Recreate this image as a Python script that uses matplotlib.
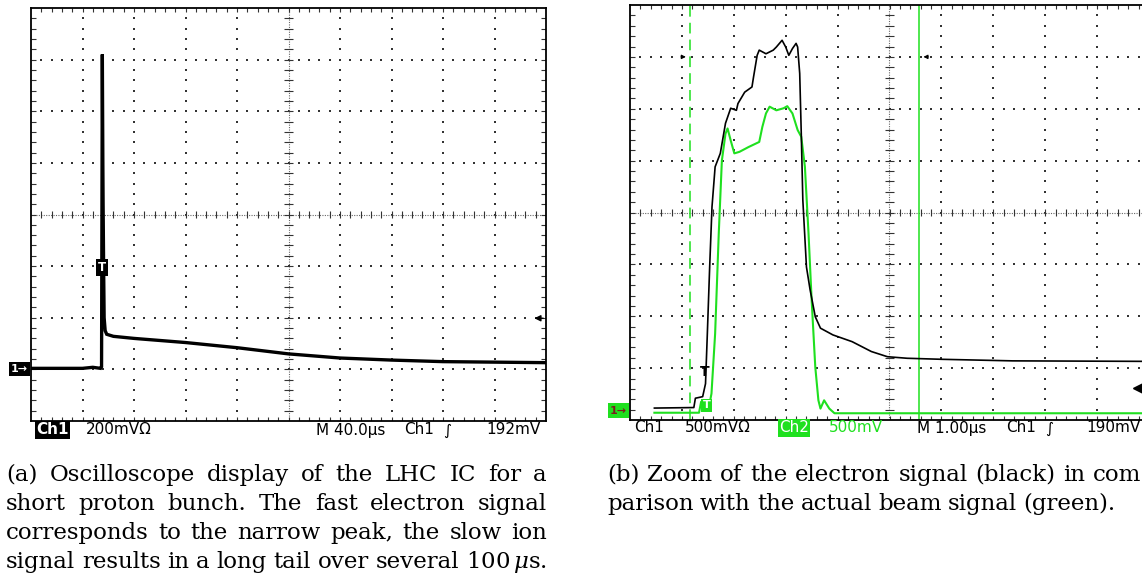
import numpy as np
import matplotlib.pyplot as plt
from matplotlib.patches import Rectangle

plt.rcParams['mathtext.fontset'] = 'dejavuserif'

W, H = 1142, 581
GREEN = '#1fe01f'

# (a) time / voltage in screen divisions
ion_t = [0.0, 0.6, 1.0, 1.2, 1.35, 1.37, 1.375, 1.385, 1.395, 1.40, 1.41, 1.42, 1.44, 1.47,
         1.6, 2.0, 3.0, 4.0, 5.0, 6.0, 7.0, 8.0, 9.0, 10.0]
ion_v = [1.02, 1.02, 1.02, 1.04, 1.02, 1.05, 3.0, 7.1, 5.0, 4.2, 3.0, 2.0, 1.75, 1.68,
         1.64, 1.6, 1.52, 1.42, 1.3, 1.22, 1.18, 1.15, 1.14, 1.13]

# (b) electron signal (black) and beam signal (green), divisions
el_t = [0.47, 1.23, 1.26, 1.40, 1.455, 1.49, 1.535, 1.58, 1.64, 1.74, 1.84, 1.94, 2.05, 2.08,
        2.21, 2.35, 2.38, 2.45, 2.49, 2.62, 2.76, 2.82, 2.93, 3.0, 3.06, 3.13, 3.20, 3.23,
        3.27, 3.30, 3.33, 3.40, 3.47, 3.57, 3.67, 3.91, 4.28, 4.65, 4.96, 5.34, 6.01, 7.37, 10.0]
el_v = [0.23, 0.24, 0.42, 0.45, 0.70, 1.66, 2.95, 4.11, 4.88, 5.14, 5.72, 6.01, 5.97, 6.10,
        6.32, 6.42, 6.61, 7.03, 7.13, 7.06, 7.13, 7.19, 7.32, 7.19, 7.03, 7.16, 7.26, 7.19,
        6.68, 5.52, 4.24, 2.95, 2.51, 1.99, 1.77, 1.64, 1.51, 1.32, 1.22, 1.19, 1.17, 1.14, 1.13]
beam_t = [0.47, 1.33, 1.37, 1.54, 1.57, 1.64, 1.71, 1.77, 1.84, 1.88, 1.94, 2.01, 2.11, 2.28,
          2.49, 2.55, 2.62, 2.69, 2.82, 2.96, 3.03, 3.13, 3.23, 3.30, 3.37, 3.44, 3.50, 3.57,
          3.63, 3.67, 3.74, 3.84, 3.94, 10.0]
beam_v = [0.14, 0.14, 0.35, 0.35, 0.51, 1.66, 3.59, 5.0, 5.52, 5.62, 5.39, 5.14, 5.17, 5.26,
          5.36, 5.65, 5.91, 6.04, 5.97, 6.01, 6.05, 5.91, 5.59, 5.46, 4.88, 3.59, 2.31, 1.02,
          0.38, 0.22, 0.38, 0.22, 0.13, 0.13]
cursor_a, cursor_b = 1.15, 5.56

cap_a = ["(a) Oscilloscope display of the LHC IC for a",
         "short proton bunch.  The fast electron signal",
         "corresponds to the narrow peak, the slow ion",
         r"signal results in a long tail over several 100$\,\mu$s."]
cap_b = ["(b) Zoom of the electron signal (black) in com",
         "parison with the actual beam signal (green)."]


fig = plt.figure(figsize=(W / 100, H / 100), dpi=100)


def px_axes(x0, y0, w, h):
    return fig.add_axes([x0 / W, 1 - (y0 + h) / H, w / W, h / H])


def graticule(ax):
    ax.set_xlim(0, 10)
    ax.set_ylim(0, 8)
    ax.set_xticks([])
    ax.set_yticks([])
    for s in ax.spines.values():
        s.set_linewidth(1.3)
    sx = np.arange(0.2, 10, 0.2)
    sy = np.arange(0.2, 8, 0.2)
    dx, dy = [], []
    for i in range(1, 10):
        if i != 5:
            dx += [i] * len(sy)
            dy += list(sy)
    for j in range(1, 8):
        if j != 4:
            dx += list(sx)
            dy += [j] * len(sx)
    ax.scatter(dx, dy, s=1.6, c='#333333', marker='s', lw=0, zorder=1)
    ax.plot([0, 10], [4, 4], color='#666666', lw=0.8, ls=(0, (1, 1.2)), zorder=1)
    ax.plot([5, 5], [0, 8], color='#666666', lw=0.8, ls=(0, (1, 1.2)), zorder=1)
    k = 0.07
    ax.vlines(sx, 4 - k, 4 + k, color='#333333', lw=0.8)
    ax.hlines(sy, 5 - k * 1.3, 5 + k * 1.3, color='#333333', lw=0.8)
    ax.vlines(sx, 0, k, color='#333333', lw=0.8)
    ax.vlines(sx, 8 - k, 8, color='#333333', lw=0.8)
    ax.hlines(sy, 0, k * 1.3, color='#333333', lw=0.8)
    ax.hlines(sy, 10 - k * 1.3, 10, color='#333333', lw=0.8)


# ---- panel (a)
axa = px_axes(31, 8, 515, 413)
graticule(axa)
axa.plot(ion_t, ion_v, color='black', lw=2.4, solid_joinstyle='miter', zorder=3)
axa.text(1.37, 2.97, 'T', color='white', fontsize=8.5, fontweight='bold', ha='center', va='center',
         bbox=dict(fc='black', ec='none', pad=1.4), zorder=4)
axa.annotate('', xy=(9.72, 1.99), xytext=(10.0, 1.99),
             arrowprops=dict(arrowstyle='-|>', color='black', lw=1, mutation_scale=9))

# ---- panel (b)
axb = px_axes(630, 5, 519, 415)
graticule(axb)
axb.axvline(cursor_a, color=GREEN, lw=1.1, ls=(0, (7, 4)), zorder=2)
axb.axvline(cursor_b, color=GREEN, lw=1.1, zorder=2)
axb.plot(beam_t, beam_v, color=GREEN, lw=1.5, zorder=3)
axb.plot(el_t, el_v, color='black', lw=1.2, zorder=4)
axb.annotate('', xy=(cursor_a - 0.02, 7.0), xytext=(cursor_a - 0.22, 7.0),
             arrowprops=dict(arrowstyle='-|>', color='black', lw=0.8, mutation_scale=6))
axb.annotate('', xy=(cursor_b + 0.04, 7.0), xytext=(cursor_b + 0.24, 7.0),
             arrowprops=dict(arrowstyle='-|>', color='black', lw=0.8, mutation_scale=6))
axb.plot([9.8], [0.62], marker='<', color='black', ms=8, clip_on=False, zorder=5)
axb.text(1.43, 0.92, 'T', color='black', fontsize=10, fontweight='bold', ha='center', va='center', zorder=5)
axb.text(1.48, 0.28, 'T', color='white', fontsize=8, fontweight='bold', ha='center', va='center',
         bbox=dict(fc=GREEN, ec='none', pad=1.2), zorder=5)

# ---- overlay in pixel coordinates
ov = fig.add_axes([0, 0, 1, 1])
ov.set_xlim(0, W)
ov.set_ylim(H, 0)
ov.axis('off')

ov.add_patch(Rectangle((9, 362), 21, 14, fc='black', ec='none'))
ov.text(19, 369, '1\u2192', color='white', fontsize=8, fontweight='bold', ha='center', va='center')
ov.add_patch(Rectangle((608, 403), 21, 15, fc=GREEN, ec='none'))
ov.text(618, 410.5, '1\u2192', color='#7a1d1d', fontsize=8, fontweight='bold', ha='center', va='center')

lab = dict(fontsize=11, va='center', ha='left', family='DejaVu Sans')
ov.text(36, 430, 'Ch1', color='white', fontweight='bold', bbox=dict(fc='black', ec='none', pad=0.8), **lab)
ov.text(86, 430, '200mV\u03a9', **lab)
ov.text(316, 430, 'M 40.0\u00b5s', **lab)
ov.text(404, 430, 'Ch1', **lab)
ov.text(443, 430, '\u222b', **lab)
ov.text(486, 430, '192mV', **lab)

ov.text(634, 428, 'Ch1', **lab)
ov.text(685, 428, '500mV\u03a9', **lab)
ov.text(779, 428, 'Ch2', color='white', bbox=dict(fc=GREEN, ec='none', pad=0.8), **lab)
ov.text(829, 428, '500mV', color=GREEN, **lab)
ov.text(917, 428, 'M 1.00\u00b5s', **lab)
ov.text(1006, 428, 'Ch1', **lab)
ov.text(1045, 428, '\u222b', **lab)
ov.text(1086, 428, '190mV', **lab)

# ---- captions, justified word by word
cap_fs = 16.5


def caption_line(line, x0, x1, y, justify=True):
    words = [w for w in line.split(' ') if w != '']
    fs = cap_fs
    while True:
        ts = [ov.text(x0, y, w, fontsize=fs, family='DejaVu Serif', va='baseline', ha='left')
              for w in words]
        fig.canvas.draw()
        r = fig.canvas.get_renderer()
        ws = [t.get_window_extent(r).width for t in ts]
        space = fs * 100 / 72 * 0.28
        if justify and len(ws) > 1:
            gap = (x1 - x0 - sum(ws)) / (len(ws) - 1)
        else:
            gap = space
        if gap >= 4 or fs < 10:
            break
        for t in ts:
            t.remove()
        fs -= 0.5
    x = x0
    for t, w in zip(ts, ws):
        t.set_x(x)
        x += w + gap


for i, line in enumerate(cap_a):
    caption_line(line, 6, 547, 481 + 29 * i)
caption_line(cap_b[0], 607, 1141, 481)
caption_line(cap_b[1], 607, 1122, 510, justify=False)

fig.savefig('out.png', dpi=100)
